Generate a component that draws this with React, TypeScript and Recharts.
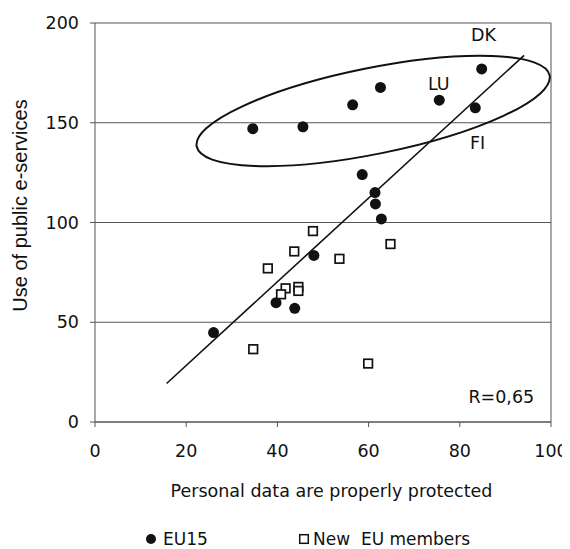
import React from 'react';
import {
  ScatterChart,
  Scatter,
  XAxis,
  YAxis,
  CartesianGrid,
  ReferenceLine,
  ReferenceDot,
} from 'recharts';

// ---- data ----
const eu15X = [34.6, 45.6, 56.5, 62.6, 75.5, 84.8, 83.4, 58.6, 61.4, 61.5, 62.8, 48.0, 39.7, 43.8, 26.0];
const eu15Y = [147, 148, 159, 167.7, 161.3, 177, 157.5, 124, 115, 109.3, 101.8, 83.5, 59.8, 57, 44.8];

const newX = [47.8, 43.7, 37.9, 53.6, 64.8, 41.8, 40.8, 44.6, 44.6, 34.7, 59.9];
const newY = [95.7, 85.5, 77, 81.8, 89.2, 67, 64, 67.7, 65.7, 36.5, 29.3];

const trendX = [15.7, 94.1];
const trendY = [19.3, 183.8];

const ellipseCenter = { x: 61.0, y: 155.9 };

const annotations = [
  { x: 85.2, y: 194, text: 'DK' },
  { x: 75.4, y: 169.4, text: 'LU' },
  { x: 83.9, y: 139.8, text: 'FI' },
  { x: 89.1, y: 12.5, text: 'R=0,65' },
];

const xTicks = [0, 20, 40, 60, 80, 100];
const yTicks = [0, 50, 100, 150, 200];

const xTitle = 'Personal data are properly protected';
const yTitle = 'Use of public e-services';
const seriesNames = ['EU15', 'New  EU members'];

const eu15 = eu15X.map((x, i) => ({ x, y: eu15Y[i] }));
const newMembers = newX.map((x, i) => ({ x, y: newY[i] }));
const trendSegment = trendX.map((x, i) => ({ x, y: trendY[i] }));

// ---- styles ----
const FONT = '"DejaVu Sans", sans-serif';
const FS = 17.5;
const LFS = 17;
const INK = '#111';
const GRID = '#555';

const Circle = (p: any) => <circle cx={p.cx} cy={p.cy} r={5.5} fill={INK} />;
const Square = (p: any) => (
  <rect x={p.cx - 4.3} y={p.cy - 4.3} width={8.6} height={8.6} fill="#fff" stroke={INK} strokeWidth={1.7} />
);

const EllipseShape = (p: any) => (
  <ellipse
    cx={p.cx}
    cy={p.cy}
    rx={180}
    ry={43}
    transform={`rotate(-11.4 ${p.cx} ${p.cy})`}
    fill="none"
    stroke={INK}
    strokeWidth={2}
  />
);

const makeTextShape = (text: string) => (p: any) => (
  <text x={p.cx} y={p.cy} textAnchor="middle" dominantBaseline="central" fontFamily={FONT} fontSize={FS} fill={INK}>
    {text}
  </text>
);

const XLabel = () => (
  <g>
    <text x={323.5} y={488.5} textAnchor="middle" fontFamily={FONT} fontSize={FS} fill={INK}>
      {xTitle}
    </text>
    <circle cx={143} cy={531} r={5} fill={INK} />
    <text x={155} y={536.5} fontFamily={FONT} fontSize={LFS} fill={INK}>
      {seriesNames[0]}
    </text>
    <rect x={291.7} y={526.7} width={8.6} height={8.6} fill="#fff" stroke={INK} strokeWidth={1.5} />
    <text x={305} y={536.5} fontFamily={FONT} fontSize={LFS} fill={INK} style={{ whiteSpace: 'pre' }}>
      {seriesNames[1]}
    </text>
  </g>
);

const YLabel = () => (
  <text
    transform="translate(19 197.5) rotate(-90)"
    x={0}
    y={0}
    textAnchor="middle"
    fontFamily='"Liberation Sans", Arial, sans-serif'
    fontSize={20}
    fill={INK}
  >
    {yTitle}
  </text>
);

export default function App() {
  return (
    <div style={{ width: 562, height: 541 }}>
      <style>{'html,body{overflow:hidden;background:#fff;}'}</style>
      <ScatterChart
        width={562}
        height={541}
        margin={{ top: 15, right: 19, left: 0, bottom: 92 }}
        style={{ background: '#fff' }}
      >
        <CartesianGrid horizontal vertical={false} stroke={GRID} strokeWidth={1} />
        <XAxis
          type="number"
          dataKey="x"
          domain={[0, 100]}
          ticks={xTicks}
          interval={0}
          height={35}
          tickSize={5}
          tickMargin={18}
          stroke={GRID}
          tick={{ fontFamily: FONT, fontSize: FS, fill: INK }}
          label={XLabel}
        />
        <YAxis
          type="number"
          dataKey="y"
          domain={[0, 200]}
          ticks={yTicks}
          interval={0}
          width={87}
          tickSize={5}
          tickMargin={11}
          stroke={GRID}
          tick={{ fontFamily: FONT, fontSize: FS, fill: INK }}
          label={YLabel}
        />
        <ReferenceLine x={100} stroke={GRID} strokeWidth={1} />
        <ReferenceLine
          segment={[trendSegment[0], trendSegment[1]]}
          stroke={INK}
          strokeWidth={1.6}
        />
        <ReferenceDot x={ellipseCenter.x} y={ellipseCenter.y} r={1} shape={EllipseShape} />
        <Scatter name={seriesNames[0]} data={eu15} shape={Circle} isAnimationActive={false} />
        <Scatter name={seriesNames[1]} data={newMembers} shape={Square} isAnimationActive={false} />
        {annotations.map((a) => (
          <ReferenceDot key={a.text} x={a.x} y={a.y} r={1} shape={makeTextShape(a.text)} />
        ))}
      </ScatterChart>
    </div>
  );
}
